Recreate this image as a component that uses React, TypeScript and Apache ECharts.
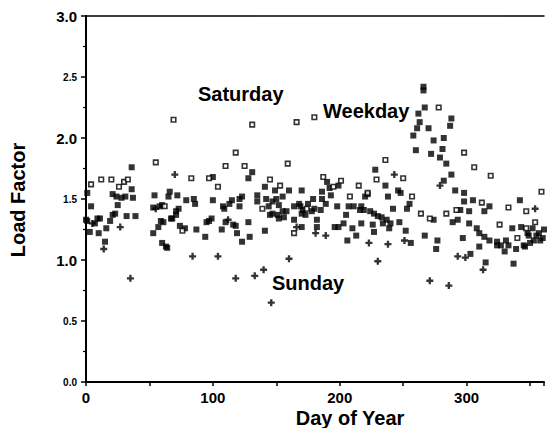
import { useEffect, useRef } from 'react';
import * as echarts from 'echarts';

// [day of year, load factor]
const weekday: [number, number][] = [
  [0,1.33],[1,1.55],[1,1.32],[3,1.23],[4,1.44],[7,1.30],[9,1.34],[10,1.22],[11,1.34],[15,1.15],[16,1.26],[19,1.32],[21,1.37],[21,1.54],[23,1.38],[24,1.52],[25,1.45],[28,1.51],[31,1.52],[32,1.36],[36,1.58],[36,1.76],[37,1.51],[39,1.36],
  [53,1.22],[53,1.43],[54,1.53],[57,1.27],[58,1.44],[59,1.32],[60,1.14],[60,1.45],[61,1.31],[63,1.11],[64,1.10],[65,1.52],[66,1.56],[67,1.34],[68,1.34],[71,1.37],[71,1.40],[72,1.53],[73,1.42],[74,1.28],[78,1.26],[79,1.49],[85,1.50],[86,1.46],[87,1.25],
  [94,1.19],[95,1.31],[97,1.32],[99,1.34],[100,1.68],[100,1.49],[107,1.25],[108,1.44],[109,1.42],[110,1.31],[113,1.46],[115,1.49],[116,1.29],[118,1.28],[119,1.22],[121,1.44],[121,1.50],[123,1.52],[123,1.15],[128,1.31],[128,1.67],[129,1.19],[131,1.72],[135,1.53],[135,1.48],[141,1.60],[141,1.24],[142,1.50],[144,1.44],[145,1.37],[147,1.48],[147,1.38],[149,1.57],[150,1.50],[151,1.37],[152,1.34],[152,1.45],[155,1.40],[155,1.52],[156,1.35],[158,1.40],[160,1.57],[164,1.33],[164,1.44],[168,1.46],[169,1.44],[170,1.38],[170,1.57],[171,1.41],[170,1.27],[173,1.37],[175,1.46],[178,1.40],[179,1.50],[180,1.42],[182,1.33],[182,1.27],[185,1.41],[186,1.50],[186,1.56],[189,1.46],[190,1.64],[192,1.59],[193,1.53],[196,1.27],[198,1.44],[199,1.61],[199,1.27],[203,1.30],[205,1.37],[206,1.16],[207,1.44],[210,1.26],[211,1.44],[213,1.20],[216,1.41],[217,1.44],[217,1.30],[219,1.41],[220,1.52],[222,1.54],[224,1.40],[226,1.29],[227,1.23],[227,1.38],[228,1.74],[230,1.36],[233,1.35],[234,1.30],[236,1.61],[237,1.33],[238,1.52],[239,1.26],[240,1.30],[242,1.42],[246,1.57],[247,1.31],[248,1.55],[252,1.24],[253,1.42],[255,1.46],[256,1.14],
  [258,2.02],[260,1.90],[261,2.08],[262,2.20],[263,2.13],[266,2.42],[266,2.39],[267,2.25],[267,1.20],[270,2.08],[272,1.87],[274,1.98],[274,1.33],[276,1.09],[277,1.16],[279,1.84],[281,1.91],[282,2.00],[282,1.65],[284,1.79],[287,2.10],[288,2.16],[288,1.70],[289,1.31],[291,1.57],[293,1.33],[295,1.41],[297,1.18],[298,1.55],[298,1.48],[302,1.40],[302,1.30],[303,1.05],[305,1.49],[308,1.26],[310,1.22],[310,1.11],[314,1.19],[314,1.40],[315,0.98],[318,1.44],[318,1.16],[324,1.12],[324,1.15],[327,1.12],[330,1.07],[331,1.16],[333,1.12],[336,1.26],[337,0.97],[339,1.09],[342,1.49],[343,1.27],[345,1.12],[346,1.11],[348,1.22],[349,1.20],[350,1.14],[352,1.26],[353,1.16],[355,1.20],[357,1.22],[358,1.16],[360,1.18],[361,1.25]
];

const saturday: [number, number][] = [
  [4,1.62],[12,1.66],[20,1.66],[26,1.60],[30,1.64],[33,1.66],[55,1.80],[62,1.44],[69,2.15],[76,1.24],[83,1.67],[97,1.67],[104,1.60],[110,1.77],[118,1.88],[125,1.77],[131,2.11],[139,1.42],[145,1.66],[153,1.61],[159,1.79],[164,1.22],[166,2.13],[174,1.42],[180,2.17],[187,1.68],[195,1.60],[201,1.65],[208,1.52],[215,1.61],[222,1.55],[229,1.66],[236,1.82],[250,1.67],[257,1.52],[264,1.38],[271,1.34],[278,2.25],[284,1.38],[292,1.41],[298,1.88],[306,1.76],[312,1.47],[319,1.69],[326,1.29],[333,1.43],[340,1.18],[347,1.40],[347,1.26],[354,1.31],[359,1.56]
];

const sunday: [number, number][] = [
  [5,1.30],[14,1.09],[27,1.27],[35,0.85],[55,1.42],[70,1.70],[84,1.03],[104,1.03],[112,1.33],[118,0.85],[133,0.87],[140,0.92],[146,0.65],[160,1.01],[166,1.27],[181,1.22],[189,1.20],[223,1.14],[230,0.99],[238,1.13],[243,1.70],[251,1.16],[271,0.83],[279,1.61],[286,0.79],[293,1.03],[299,1.02],[313,0.92],[354,1.42]
];

const xLabelValues = [0, 100, 200, 300];
const yBigLabels = ['1.0', '2.0', '3.0'];
const seriesNames = ['Weekday', 'Saturday', 'Sunday'];

const FONT = '"Liberation Sans", Arial, Helvetica, sans-serif';

export default function App() {
  const ref = useRef<HTMLDivElement>(null);
  useEffect(() => {
    const chart = echarts.init(ref.current!, null, { renderer: 'svg' });
    const axisLine = { show: true, lineStyle: { color: '#000', width: 2 } };
    chart.setOption({
      animation: false,
      backgroundColor: '#fff',
      textStyle: { fontFamily: FONT },
      grid: { left: 86, right: 0, top: 16, bottom: 46 },
      xAxis: [
        {
          type: 'value', min: 0, max: 361, interval: 50, position: 'bottom',
          axisLine,
          axisTick: { show: true, length: 4, lineStyle: { color: '#000', width: 1.5 } },
          splitLine: { show: false },
          axisLabel: {
            margin: 8, color: '#000', fontSize: 15, fontWeight: 'bold', fontFamily: FONT,
            formatter: (v: number) => (xLabelValues.includes(v) ? String(v) : ''),
          },
        },
        {
          type: 'value', min: 0, max: 361, position: 'top',
          axisLine: { show: true, lineStyle: { color: '#000', width: 1.5 } },
          axisTick: { show: false }, axisLabel: { show: false }, splitLine: { show: false },
        },
      ],
      yAxis: {
        type: 'value', min: 0, max: 3, interval: 0.5,
        axisLine,
        axisTick: { show: true, length: 5, lineStyle: { color: '#000', width: 1.5 } },
        minorTick: { show: true, splitNumber: 2, length: 3, lineStyle: { color: '#000', width: 1.2 } },
        splitLine: { show: false },
        axisLabel: {
          margin: 9, color: '#000', fontFamily: FONT,
          formatter: (v: number) => {
            const s = v.toFixed(1);
            return yBigLabels.includes(s) ? `{b|${s}}` : `{s|${s}}`;
          },
          rich: {
            b: { fontSize: 15, fontWeight: 'bold', color: '#000', fontFamily: FONT },
            s: { fontSize: 10, fontWeight: 'bold', color: '#000', fontFamily: FONT },
          },
        },
      },
      series: [
        {
          name: seriesNames[0], type: 'scatter', data: weekday, symbol: 'rect', symbolSize: 6,
          itemStyle: { color: '#000' },
        },
        {
          name: seriesNames[1], type: 'scatter', data: saturday, symbol: 'rect', symbolSize: 4.5,
          itemStyle: { color: '#fff', borderColor: '#000', borderWidth: 1.6 },
        },
        {
          name: seriesNames[2], type: 'scatter', data: sunday,
          symbol: 'path://M2,0h2v2h2v2h-2v2h-2v-2h-2v-2h2z', symbolSize: 7,
          itemStyle: { color: '#000' },
        },
      ],
      graphic: [
        { type: 'text', x: 198, y: 94, style: { text: 'Saturday', font: `bold 20px ${FONT}`, fill: '#000', textAlign: 'left', textVerticalAlign: 'middle' } },
        { type: 'text', x: 323, y: 111, style: { text: 'Weekday', font: `bold 20px ${FONT}`, fill: '#000', textAlign: 'left', textVerticalAlign: 'middle' } },
        { type: 'text', x: 272, y: 283, style: { text: 'Sunday', font: `bold 20px ${FONT}`, fill: '#000', textAlign: 'left', textVerticalAlign: 'middle' } },
        { type: 'text', x: 350, y: 418, style: { text: 'Day of Year', font: `bold 20px ${FONT}`, fill: '#000', textAlign: 'center', textVerticalAlign: 'middle' } },
        { type: 'text', x: 18, y: 200, rotation: Math.PI / 2, style: { text: 'Load Factor', font: `bold 20px ${FONT}`, fill: '#000', textAlign: 'center', textVerticalAlign: 'middle' } },
      ],
    });
    return () => chart.dispose();
  }, []);
  return (
    <div
      ref={ref}
      style={{ position: 'fixed', left: 0, top: 0, width: 547, height: 428, background: '#fff' }}
    />
  );
}
